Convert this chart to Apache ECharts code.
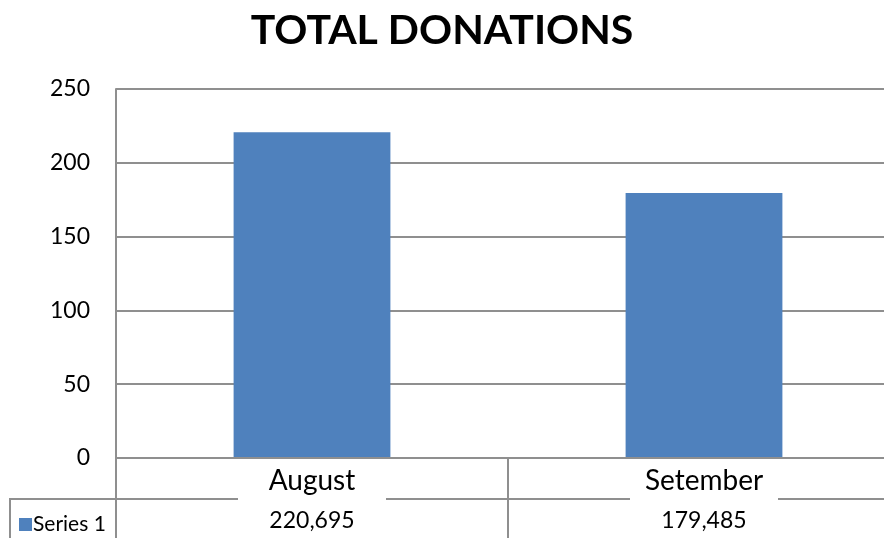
<!DOCTYPE html>
<html>
<head>
<meta charset="utf-8">
<script src="https://cdn.jsdelivr.net/npm/echarts@6/dist/echarts.min.js"></script>
<style>
  html, body { margin: 0; padding: 0; background: #fff; }
  #chart { width: 884px; height: 538px; }
</style>
</head>
<body>
<div id="chart"></div>
<script>
'use strict';

var categories = ['August', 'Setember'];
var donations = [220695, 179485];
var seriesName = 'Series 1';
var yTicks = { min: 0, max: 250, interval: 50 };

var FONT = 'Lato, "Liberation Sans", sans-serif';
var GRAY = '#8f8f8f';
var BLUE = '#4f81bd';

// bars are plotted in thousands, table shows full amounts
var barValues = donations.map(function (v) { return v / 1000; });
var tableText = donations.map(function (v) { return v.toLocaleString('en-US'); });

var myChart = echarts.init(document.getElementById('chart'));

var option = {
	animation: false,
	title: {
		text: 'TOTAL DONATIONS',
		left: 'center',
		top: 5,
		textStyle: { fontFamily: FONT, fontSize: 41, fontWeight: 'bold', color: '#000' }
	},
	legend: {
		data: [seriesName],
		left: 14,
		top: 509,
		icon: 'rect',
		itemWidth: 13,
		itemHeight: 13,
		itemGap: 2,
		textStyle: { fontFamily: FONT, fontSize: 21, color: '#000', padding: [0, 0, 0, -4] }
	},
	// plot area runs past the right edge of the picture
	grid: { left: 116, width: 784, top: 89, bottom: 80, containLabel: false, outerBoundsMode: 'none' },
	xAxis: [
		{
			type: 'category',
			data: categories,
			position: 'bottom',
			z: 3,
			axisLine: { show: true, lineStyle: { color: GRAY, width: 2 } },
			axisTick: { show: true, length: 41, interval: 0, lineStyle: { color: GRAY, width: 2 } },
			// white box under the name hides the table line, as in the original
			axisLabel: {
				fontFamily: FONT, fontSize: 28, color: '#000', margin: 7,
				width: 148, align: 'center', lineHeight: 32,
				backgroundColor: '#fff', padding: [0, 0, 3, 0]
			},
			splitLine: { show: false }
		},
		{
			type: 'category',
			data: categories,
			position: 'bottom',
			offset: 41,
			z: 1,
			axisLine: { show: true, lineStyle: { color: GRAY, width: 2 } },
			axisTick: { show: true, length: 39, interval: 0, lineStyle: { color: GRAY, width: 2 } },
			axisLabel: {
				fontFamily: FONT, fontSize: 23, color: '#000', margin: 10,
				formatter: function (val, idx) { return tableText[idx]; }
			},
			splitLine: { show: false }
		}
	],
	yAxis: {
		type: 'value',
		min: yTicks.min,
		max: yTicks.max,
		interval: yTicks.interval,
		axisLine: { show: true, lineStyle: { color: GRAY, width: 2 } },
		axisTick: { show: false },
		axisLabel: { fontFamily: FONT, fontSize: 23, color: '#000', margin: 26 },
		splitLine: { show: true, lineStyle: { color: GRAY, width: 2 } }
	},
	series: [
		{
			name: seriesName,
			type: 'bar',
			xAxisIndex: 0,
			data: barValues,
			barWidth: '40%',
			itemStyle: { color: BLUE }
		}
	],
	graphic: [
		{
			type: 'polyline',
			shape: { points: [[10, 540], [10, 499], [116, 499]] },
			style: { stroke: GRAY, lineWidth: 2, fill: null }
		}
	]
};

myChart.setOption(option);
</script>
</body>
</html>
